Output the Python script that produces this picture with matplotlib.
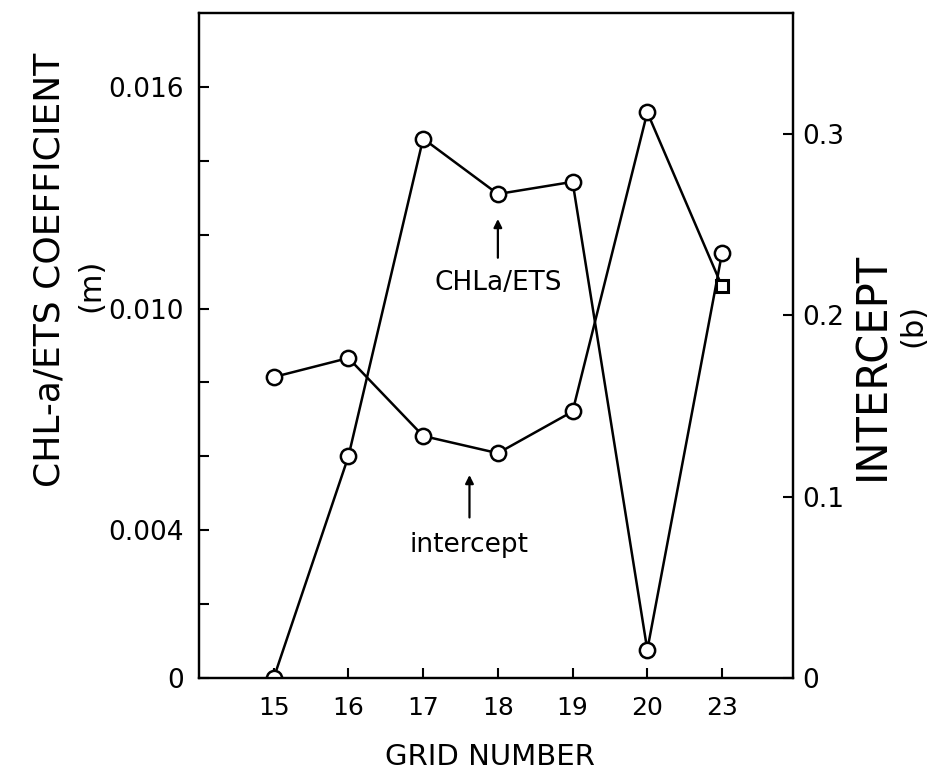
import matplotlib
matplotlib.use('Agg')
import matplotlib.pyplot as plt
import numpy as np

# ---- data ----
grid_labels = ['15', '16', '17', '18', '19', '20', '23']
chl_ets = [0.0, 0.0060, 0.0146, 0.0131, 0.01343, 0.00076, 0.0115]
intercept = [0.166, 0.1765, 0.1335, 0.124, 0.147, 0.312, 0.216]

left_ticks = [0, 0.002, 0.004, 0.006, 0.008, 0.010, 0.012, 0.014, 0.016]
left_labels = ['0', '', '0.004', '', '', '0.010', '', '', '0.016']
right_ticks = [0, 0.1, 0.2, 0.3]
right_labels = ['0', '0.1', '0.2', '0.3']

plt.rcParams['font.family'] = ['DejaVu Sans']

W, H = 940, 782
fig = plt.figure(figsize=(W / 100, H / 100), dpi=100)
L, R, T, B = 199, 793, 13, 678
ax = fig.add_axes([L / W, 1 - B / H, (R - L) / W, (B - T) / H])
ax2 = ax.twinx()

x = np.arange(len(grid_labels))
lw = 1.8
mk = dict(ms=11, mfc='white', mec='black', mew=1.8)

ax.plot(x, chl_ets, color='black', lw=lw, zorder=2)
ax.plot(x, chl_ets, ls='none', marker='o', zorder=3, **mk)

ax2.plot(x, intercept, color='black', lw=lw, zorder=2)
ax2.plot(x[:-1], intercept[:-1], ls='none', marker='o', zorder=3, **mk)
ax2.plot(x[-1:], intercept[-1:], ls='none', marker='s', zorder=3,
         ms=9, mfc='white', mec='black', mew=2.2)

ax.set_xlim(-1.0, 6.95)
ax.set_ylim(0, 0.018)
ax2.set_ylim(0, 0.3668)

ax.set_xticks(x)
ax.set_xticklabels(grid_labels)
ax.set_yticks(left_ticks)
ax.set_yticklabels(left_labels)
ax2.set_yticks(right_ticks)
ax2.set_yticklabels(right_labels)

for a in (ax, ax2):
    for s in a.spines.values():
        s.set_linewidth(1.6)
ax.tick_params(axis='both', direction='in', length=7, width=1.5, labelsize=18)
ax.tick_params(axis='y', pad=11, labelsize=19)
ax.tick_params(axis='x', pad=13)
ax2.tick_params(axis='y', direction='in', length=7, width=1.5, labelsize=19, pad=7)

# axis titles
fig.text(490 / W, 1 - 757 / H, 'GRID NUMBER', ha='center', va='center', fontsize=21)
fig.text(50 / W, 1 - 270 / H, 'CHL-a/ETS COEFFICIENT', rotation=90,
         ha='center', va='center', fontsize=26)
fig.text(91 / W, 1 - 285 / H, '(m)', rotation=90, ha='center', va='center', fontsize=22)
fig.text(872 / W, 1 - 366 / H, 'INTERCEPT', rotation=90,
         ha='center', va='center', fontsize=30)
fig.text(913 / W, 1 - 325 / H, '(b)', rotation=90, ha='center', va='center', fontsize=22)

# annotations
ax.annotate('', xy=(3, 0.0125), xytext=(3, 0.0113),
            arrowprops=dict(arrowstyle='-|>', color='black', lw=1.6, mutation_scale=12))
ax.text(3, 0.0107, 'CHLa/ETS', ha='center', va='center', fontsize=19)

ax.annotate('', xy=(2.62, 0.00557), xytext=(2.62, 0.00427),
            arrowprops=dict(arrowstyle='-|>', color='black', lw=1.6, mutation_scale=12))
ax.text(2.62, 0.0036, 'intercept', ha='center', va='center', fontsize=19)

fig.savefig('out.png', dpi=100)
